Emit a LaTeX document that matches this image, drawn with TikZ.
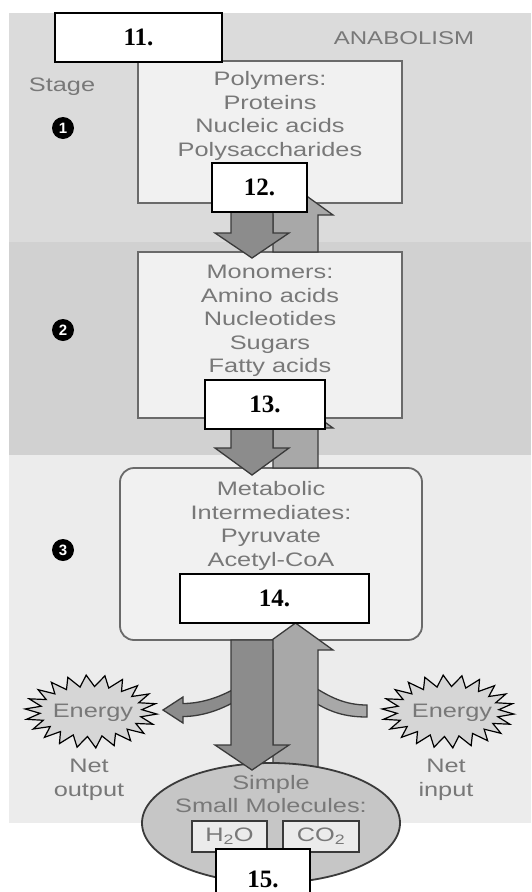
\documentclass[tikz,border=0pt]{standalone}
\usepackage{fontspec}
\setmainfont{Liberation Sans}
\newfontfamily\lsans[FakeStretch=1.3]{Liberation Sans}
\newfontfamily\lserif{Liberation Serif}
\usetikzlibrary{shapes.geometric}
\definecolor{panA}{HTML}{DBDBDB}
\definecolor{panB}{HTML}{D1D1D1}
\definecolor{panC}{HTML}{ECECEC}
\definecolor{boxfill}{HTML}{F1F1F1}
\definecolor{boxline}{HTML}{6A6A6A}
\definecolor{txtgray}{HTML}{787878}
\definecolor{dnfill}{HTML}{8C8C8C}
\definecolor{upfill}{HTML}{A8A8A8}
\definecolor{arrline}{HTML}{3A3A3A}
\definecolor{ellfill}{HTML}{C6C6C6}
\definecolor{starfill}{HTML}{D6D6D6}
\newcommand\dnarr[4]{\draw[dnsty] (#1-21,#2) -- (#1-21,#3) -- (#1-37,#3) -- (#1,#4) -- (#1+37,#3) -- (#1+21,#3) -- (#1+21,#2) -- cycle;}
\newcommand\uparr[4]{\draw[upsty] (#1-22.5,#2) -- (#1-22.5,#3) -- (#1-37.5,#3) -- (#1,#4) -- (#1+37.5,#3) -- (#1+22.5,#3) -- (#1+22.5,#2) -- cycle;}
\newcommand\starburst[2]{\draw[starsty] plot[samples at={0,...,43}, variable=\k]
 ({#1+ifthenelse(mod(\k,2)==0,66,51)*cos(\k*360/44+4)}, {#2+ifthenelse(mod(\k,2)==0,36.5,25)*sin(\k*360/44+4)}) -- cycle;}
\tikzset{
  gbox/.style={draw=boxline, line width=1.8pt, fill=boxfill, inner sep=0pt},
  numbox/.style={draw=black, line width=1.3pt, fill=white, inner sep=0pt, font=\lserif\bfseries\fontsize{25}{28}\selectfont},
  gtext/.style={text=txtgray, align=center, font=\lsans\fontsize{19.5}{23.5}\selectfont, inner sep=0pt},
  dnsty/.style={fill=dnfill, draw=arrline, line width=1.3pt, line join=miter},
  upsty/.style={fill=upfill, draw=arrline, line width=1.3pt, line join=miter},
  starsty/.style={fill=starfill, draw=black, line width=1.2pt, line join=miter},
  stagenum/.style={circle, fill=black, text=white, minimum size=22pt, inner sep=0pt, font=\bfseries\fontsize{15}{15}\selectfont},
  smallbox/.style={draw=arrline, line width=1.5pt, fill=boxfill!85!ellfill, inner sep=0pt}
}
\begin{document}
\begin{tikzpicture}[x=1pt,y=-1pt]
\useasboundingbox (0,0) rectangle (531,892);
\clip (0,0) rectangle (531,892);
% stage panels
\fill[panA] (9,13) rectangle (531,242);
\fill[panB] (9,242) rectangle (531,455);
\fill[panC] (9,455) rectangle (531,823);
% labels
\node[gtext, font=\lsans\fontsize{18.5}{22}\selectfont] (anab) at (404,38) {ANABOLISM};
\node[gtext] (stage) at (62,87) {Stage};
\node[stagenum] (s1) at (63,128) {1};
\node[stagenum] (s2) at (63,330) {2};
\node[stagenum] (s3) at (63,550) {3};
% boxes
\node[gbox, minimum width=264pt, minimum height=142pt] (poly) at (270,132) {};
\node[gtext] (polyt) at (270,116) {Polymers:\\Proteins\\Nucleic acids\\Polysaccharides};
\node[gbox, minimum width=264pt, minimum height=166pt] (mono) at (270,335) {};
\node[gtext] (monot) at (270,321) {Monomers:\\Amino acids\\Nucleotides\\Sugars\\Fatty acids};
\node[gbox, rounded corners=14pt, minimum width=302pt, minimum height=172pt] (meta) at (271,554) {};
\node[gtext] (metat) at (271,526) {Metabolic\\Intermediates:\\Pyruvate\\Acetyl-CoA};
% side bands
\draw[dnsty] (234,689) .. controls (218,698) and (200,703.5) .. (183,703.5) -- (183,697) -- (163,710) -- (183,723) -- (183,716.5) .. controls (200,716.5) and (218,711) .. (234,702) -- cycle;
\draw[upsty] (314,687) .. controls (330,697) and (345,705) .. (367,705) -- (367,717) .. controls (345,717) and (330,712) .. (314,702) -- cycle;
% up arrows
\uparr{295.5}{252}{215}{188}
\uparr{295.5}{468}{428}{401}
\uparr{295.5}{790}{650}{623}
% ellipse
\node[ellipse, draw=arrline, line width=1.8pt, fill=ellfill, minimum width=258pt, minimum height=120pt, inner sep=0pt] (ell) at (271,823) {};
\node[gtext] (ellt) at (271,794) {Simple\\Small Molecules:};
\node[smallbox, minimum width=75pt, minimum height=31pt] (h2o) at (229.5,836.5) {};
\node[gtext] at (h2o) {H\textsubscript{2}O};
\node[smallbox, minimum width=76pt, minimum height=31pt] (co2) at (321,836.5) {};
\node[gtext] at (co2) {CO\textsubscript{2}};
% down arrows
\dnarr{252}{203}{233}{258}
\dnarr{252}{418}{448}{475}
\dnarr{252}{640}{745}{770}
% energy
\starburst{91}{711.5}
\starburst{448}{711.5}
\node[gtext] (e1) at (93,713) {Energy};
\node[gtext] (e2) at (452,713) {Energy};
\node[gtext] (no) at (89,780) {Net\\output};
\node[gtext] (ni) at (446,780) {Net\\input};
% number boxes
\node[numbox, minimum width=167pt, minimum height=49pt] (b11) at (138.5,37.5) {11.};
\node[numbox, minimum width=95pt, minimum height=49pt] (b12) at (259.5,187.5) {12.};
\node[numbox, minimum width=120pt, minimum height=49pt] (b13) at (265,404.5) {13.};
\node[numbox, minimum width=189pt, minimum height=49pt] (b14) at (274.5,598.5) {14.};
\node[numbox, minimum width=94pt, minimum height=60pt] (b15) at (263,879) {15.};
\end{tikzpicture}
\end{document}
